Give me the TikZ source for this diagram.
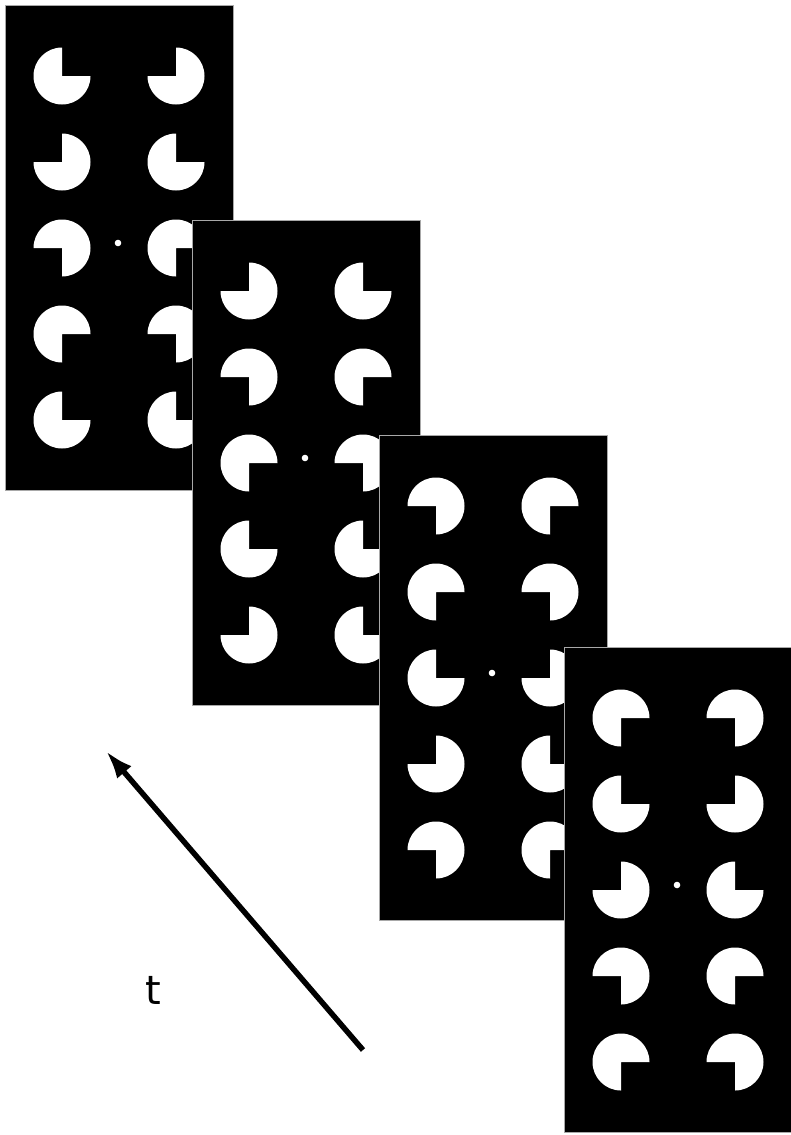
\documentclass[tikz,border=0pt]{standalone}
\usepackage{fontspec}
\usepackage{tikz}
\usetikzlibrary{arrows.meta,calc,positioning}
\newfontfamily\labelfont{DejaVu Sans}
\definecolor{frameedge}{HTML}{A8A8A8}
\tikzset{
  panel/.style={
    draw=frameedge,
    line width=1.2pt,
    fill=black,
    inner sep=0pt,
    minimum width=228pt,
    minimum height=485pt
  },
  fixdot/.style={fill=white},
  timearrow/.style={line width=5.5pt, -{Latex[length=28pt,width=19pt]}},
  timelabel/.style={font=\labelfont\fontsize{40}{42}\selectfont, inner sep=0pt}
}
% one white inducer: centre x, centre y, start angle of the 270 degree arc
\newcommand{\inducer}[3]{%
  \fill[white] (#1,#2) -- ++(#3:28.5) arc[start angle=#3, delta angle=270, radius=28.5] -- cycle;
}

\begin{document}
\begin{tikzpicture}[x=1pt,y=-1pt]
\useasboundingbox (0,0) rectangle (790,1135);
\fill[white] (0,0) rectangle (790,1135);

% frames, back to front (the last one runs off the page)
\foreach \px/\py/\pw/\angs [count=\k] in {
  5/5/228/{0,270,270,0,180,90,90,180,0,0},
  192/220/228/{270,0,180,90,90,180,0,0,270,0},
  379/435/228/{180,90,90,180,0,270,270,0,180,90},
  564/647/240/{90,180,0,270,270,0,180,90,90,180}}{
  \node[panel, minimum width=\pw pt, anchor=north west] (p\k) at (\px,\py) {};
  \foreach \a [count=\i from 0] in \angs {
    \pgfmathsetmacro\cx{\px+57+114*mod(\i,2)}
    \pgfmathsetmacro\cy{\py+71+86*floor(\i/2)}
    \inducer{\cx}{\cy}{\a}
  }
  \fill[fixdot] (\px+113,\py+238) circle[radius=3.3];
}

% time axis
\coordinate (tstart) at (363,1050);
\coordinate (tend) at (106,751);
\draw[timearrow] (tstart) -- (tend);
\node[timelabel] (tlabel) at (153,990) {t};
\end{tikzpicture}
\end{document}
